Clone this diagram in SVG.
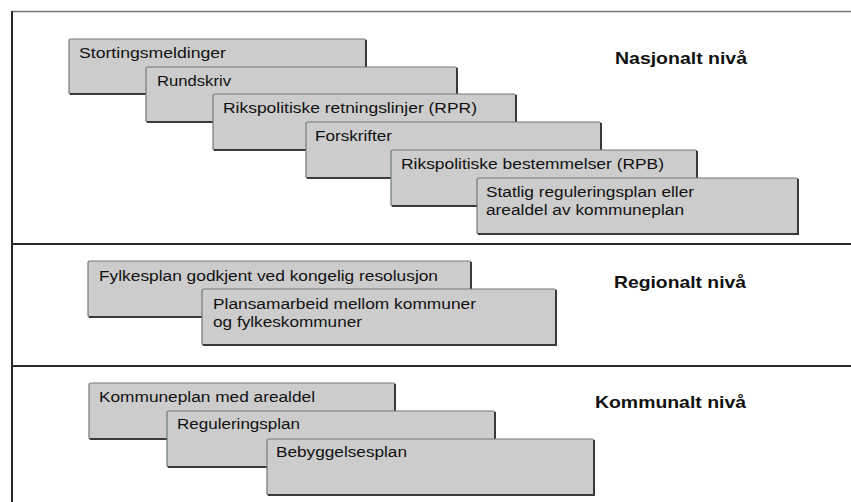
<svg xmlns="http://www.w3.org/2000/svg" width="851" height="502" viewBox="0 0 851 502">
<style>
.box rect{fill:#cccccc;stroke:#6f7a7a;stroke-width:1.2}
.box path{fill:none;stroke:#3a3a3a;stroke-width:2}
.t{font-family:"Liberation Sans",Arial,sans-serif;font-size:15.5px;fill:#111}
.lvl{font-family:"Liberation Sans",Arial,sans-serif;font-size:16.5px;font-weight:bold;fill:#111}
.frame{stroke:#2a2a2a;stroke-width:2;fill:none}
</style>
<rect x="0" y="0" width="851" height="502" fill="#ffffff"/>
<g id="frame">
<line x1="12" y1="11.5" x2="851" y2="11.5" stroke="#777" stroke-width="1.5"/>
<line x1="12" y1="11" x2="12" y2="502" class="frame" stroke-width="1.5"/>
<line x1="12" y1="244" x2="851" y2="244" class="frame"/>
<line x1="12" y1="366" x2="851" y2="366" class="frame"/>
</g>
<g id="connectors"></g>
<g id="n1" class="box"><rect x="69" y="39" width="297" height="55" rx="2"/><path d="M366 40 V94 H70"/><text class="t" x="79" y="58" textLength="147" lengthAdjust="spacingAndGlyphs">Stortingsmeldinger</text></g>
<g id="n2" class="box"><rect x="146" y="67" width="311" height="55" rx="2"/><path d="M457 68 V122 H147"/><text class="t" x="157" y="86" textLength="74" lengthAdjust="spacingAndGlyphs">Rundskriv</text></g>
<g id="n3" class="box"><rect x="213" y="94" width="303" height="56" rx="2"/><path d="M516 95 V150 H214"/><text class="t" x="223" y="113" textLength="254" lengthAdjust="spacingAndGlyphs">Rikspolitiske retningslinjer (RPR)</text></g>
<g id="n4" class="box"><rect x="306" y="122" width="295" height="56" rx="2"/><path d="M601 123 V178 H307"/><text class="t" x="315" y="141" textLength="77" lengthAdjust="spacingAndGlyphs">Forskrifter</text></g>
<g id="n5" class="box"><rect x="391" y="150" width="306" height="56" rx="2"/><path d="M697 151 V206 H392"/><text class="t" x="401" y="169" textLength="263" lengthAdjust="spacingAndGlyphs">Rikspolitiske bestemmelser (RPB)</text></g>
<g id="n6" class="box"><rect x="477" y="178" width="321" height="56" rx="2"/><path d="M798 179 V234 H478"/><text class="t" x="486" y="197" textLength="208" lengthAdjust="spacingAndGlyphs">Statlig reguleringsplan eller</text><text class="t" x="486" y="215" textLength="198" lengthAdjust="spacingAndGlyphs">arealdel av kommuneplan</text></g>
<g id="lvl1"><text class="lvl" x="615" y="64" textLength="132" lengthAdjust="spacingAndGlyphs">Nasjonalt nivå</text></g>

<g id="r1" class="box"><rect x="88" y="261" width="383" height="56" rx="2"/><path d="M471 262 V317 H89"/><text class="t" x="99" y="281" textLength="339" lengthAdjust="spacingAndGlyphs">Fylkesplan godkjent ved kongelig resolusjon</text></g>
<g id="r2" class="box"><rect x="202" y="289" width="354" height="56" rx="2"/><path d="M556 290 V345 H203"/><text class="t" x="213" y="309" textLength="263" lengthAdjust="spacingAndGlyphs">Plansamarbeid mellom kommuner</text><text class="t" x="213" y="327" textLength="149" lengthAdjust="spacingAndGlyphs">og fylkeskommuner</text></g>
<g id="lvl2"><text class="lvl" x="614" y="288" textLength="132" lengthAdjust="spacingAndGlyphs">Regionalt nivå</text></g>

<g id="k1" class="box"><rect x="89" y="383" width="306" height="56" rx="2"/><path d="M395 384 V439 H90"/><text class="t" x="99" y="402" textLength="216" lengthAdjust="spacingAndGlyphs">Kommuneplan med arealdel</text></g>
<g id="k2" class="box"><rect x="167" y="411" width="328" height="56" rx="2"/><path d="M495 412 V467 H168"/><text class="t" x="177" y="429" textLength="123" lengthAdjust="spacingAndGlyphs">Reguleringsplan</text></g>
<g id="k3" class="box"><rect x="267" y="439" width="327" height="56" rx="2"/><path d="M594 440 V495 H268"/><text class="t" x="276" y="457" textLength="131" lengthAdjust="spacingAndGlyphs">Bebyggelsesplan</text></g>
<g id="lvl3"><text class="lvl" x="595" y="408" textLength="151" lengthAdjust="spacingAndGlyphs">Kommunalt nivå</text></g>
</svg>
